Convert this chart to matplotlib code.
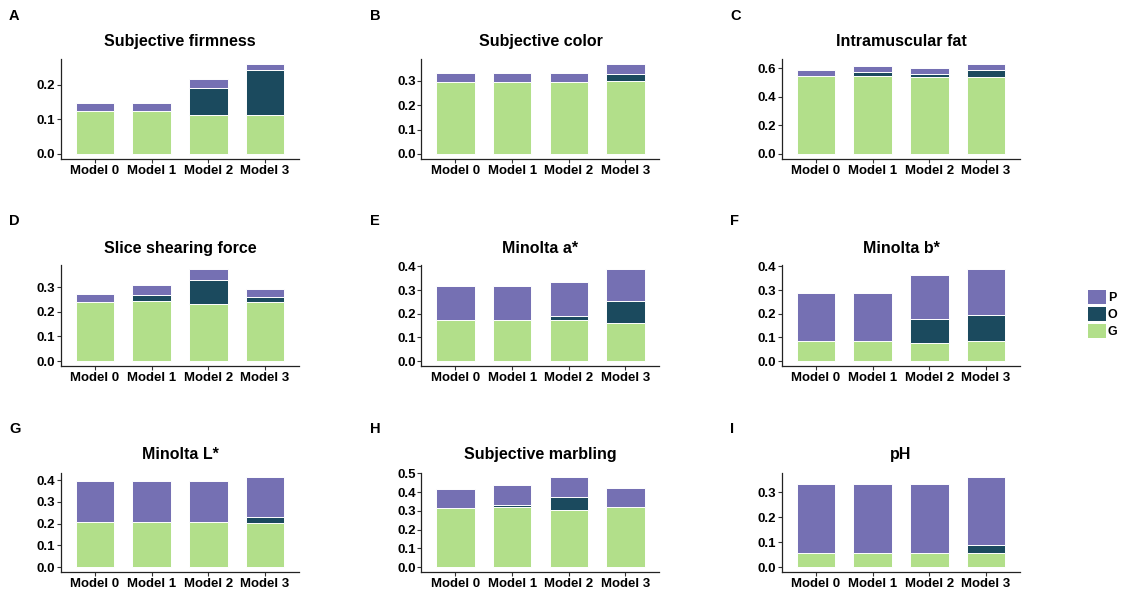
import matplotlib
matplotlib.use("Agg")
import matplotlib.pyplot as plt
from matplotlib.patches import Patch
from matplotlib.ticker import MultipleLocator, FormatStrFormatter
import numpy as np

plt.rcParams["font.family"] = ["Liberation Sans", "DejaVu Sans"]
plt.rcParams["font.weight"] = "bold"

models = ["Model 0", "Model 1", "Model 2", "Model 3"]
series_names = ["P", "O", "G"]
colors = {"P": "#7570B3", "O": "#1B4A5E", "G": "#B2DF8A"}

# Proportion of variance per trait (G, O and P components)
firmness_G = [0.123, 0.123, 0.113, 0.113]
firmness_O = [0.0, 0.0, 0.076, 0.129]
firmness_P = [0.023, 0.023, 0.027, 0.019]

color_G = [0.296, 0.296, 0.296, 0.300]
color_O = [0.0, 0.0, 0.0, 0.029]
color_P = [0.038, 0.038, 0.038, 0.042]

imf_G = [0.546, 0.548, 0.541, 0.535]
imf_O = [0.0, 0.028, 0.021, 0.053]
imf_P = [0.040, 0.042, 0.040, 0.044]

ssf_G = [0.239, 0.245, 0.233, 0.238]
ssf_O = [0.0, 0.023, 0.096, 0.020]
ssf_P = [0.035, 0.040, 0.044, 0.034]

mina_G = [0.173, 0.173, 0.172, 0.163]
mina_O = [0.0, 0.0, 0.018, 0.093]
mina_P = [0.145, 0.145, 0.146, 0.133]

minb_G = [0.084, 0.084, 0.075, 0.084]
minb_O = [0.0, 0.0, 0.101, 0.113]
minb_P = [0.203, 0.203, 0.186, 0.192]

minl_G = [0.209, 0.209, 0.209, 0.203]
minl_O = [0.0, 0.0, 0.0, 0.028]
minl_P = [0.186, 0.186, 0.186, 0.183]

marb_G = [0.316, 0.319, 0.307, 0.321]
marb_O = [0.0, 0.013, 0.068, 0.0]
marb_P = [0.100, 0.108, 0.105, 0.100]

ph_G = [0.056, 0.056, 0.056, 0.056]
ph_O = [0.0, 0.0, 0.0, 0.032]
ph_P = [0.275, 0.275, 0.278, 0.272]

titles = ["Subjective firmness", "Subjective color", "Intramuscular fat",
          "Slice shearing force", "Minolta a*", "Minolta b*",
          "Minolta L*", "Subjective marbling", "pH"]
letters = ["A", "B", "C", "D", "E", "F", "G", "H", "I"]
tick_steps = [0.1, 0.1, 0.2, 0.1, 0.1, 0.1, 0.1, 0.1, 0.1]

panels = [
    (firmness_G, firmness_O, firmness_P),
    (color_G, color_O, color_P),
    (imf_G, imf_O, imf_P),
    (ssf_G, ssf_O, ssf_P),
    (mina_G, mina_O, mina_P),
    (minb_G, minb_O, minb_P),
    (minl_G, minl_O, minl_P),
    (marb_G, marb_O, marb_P),
    (ph_G, ph_O, ph_P),
]

W, H = 1121, 592
fig = plt.figure(figsize=(W / 100, H / 100), dpi=100)

col_left = [61, 421.5, 782]
axes_w = 238
row_top = [59, 264.5, 472.5]
row_bottom = [158.5, 365.7, 571.7]
title_base = [46, 253, 459]
letter_y = [16.5, 221, 429]
letter_x = [9, 370, 730]

x = np.arange(len(models))
bar_w = 0.68

for i, (g, o, p) in enumerate(panels):
    r, c = divmod(i, 3)
    left = col_left[c] / W
    bottom = 1 - row_bottom[r] / H
    height = (row_bottom[r] - row_top[r]) / H
    ax = fig.add_axes([left, bottom, axes_w / W, height])

    g = np.array(g); o = np.array(o); p = np.array(p)
    kw = dict(width=bar_w, edgecolor="white", linewidth=0.7)
    ax.bar(x, g, color=colors["G"], **kw)
    ax.bar(x, o, bottom=g, color=colors["O"], **kw)
    ax.bar(x, p, bottom=g + o, color=colors["P"], **kw)

    top = (g + o + p).max()
    ax.set_ylim(-0.05 * top, 1.05 * top)
    ax.set_xlim(-0.6, len(models) - 0.4)
    ax.set_xticks(x)
    ax.set_xticklabels(models)
    ax.yaxis.set_major_locator(MultipleLocator(tick_steps[i]))
    ax.yaxis.set_major_formatter(FormatStrFormatter("%.1f"))

    for side in ("top", "right"):
        ax.spines[side].set_visible(False)
    for side in ("left", "bottom"):
        ax.spines[side].set_color("#222222")
        ax.spines[side].set_linewidth(0.9)
    ax.tick_params(axis="both", colors="#333333", length=3, width=0.8,
                   labelcolor="black", labelsize=9.5)
    ax.tick_params(axis="x", pad=1.5)
    ax.tick_params(axis="y", pad=1.0)
    for lab in ax.get_xticklabels() + ax.get_yticklabels():
        lab.set_fontweight("bold")

    cx = (col_left[c] + axes_w / 2) / W
    fig.text(cx, 1 - title_base[r] / H, titles[i], ha="center", va="baseline",
             fontsize=11.5, fontweight="bold")
    fig.text(letter_x[c] / W, 1 - letter_y[r] / H, letters[i], ha="left",
             va="center", fontsize=10.5, fontweight="bold")

handles = [Patch(facecolor=colors[s], edgecolor="none") for s in series_names]
fig.legend(handles, series_names, loc="center left",
           bbox_to_anchor=(1088 / W, 1 - 314 / H), frameon=False,
           handlelength=1.45, handleheight=1.4,
           labelspacing=0.2, handletextpad=0.15, borderpad=0,
           borderaxespad=0, prop={"weight": "bold", "size": 9})

fig.savefig("out.png", dpi=100, facecolor="white")
